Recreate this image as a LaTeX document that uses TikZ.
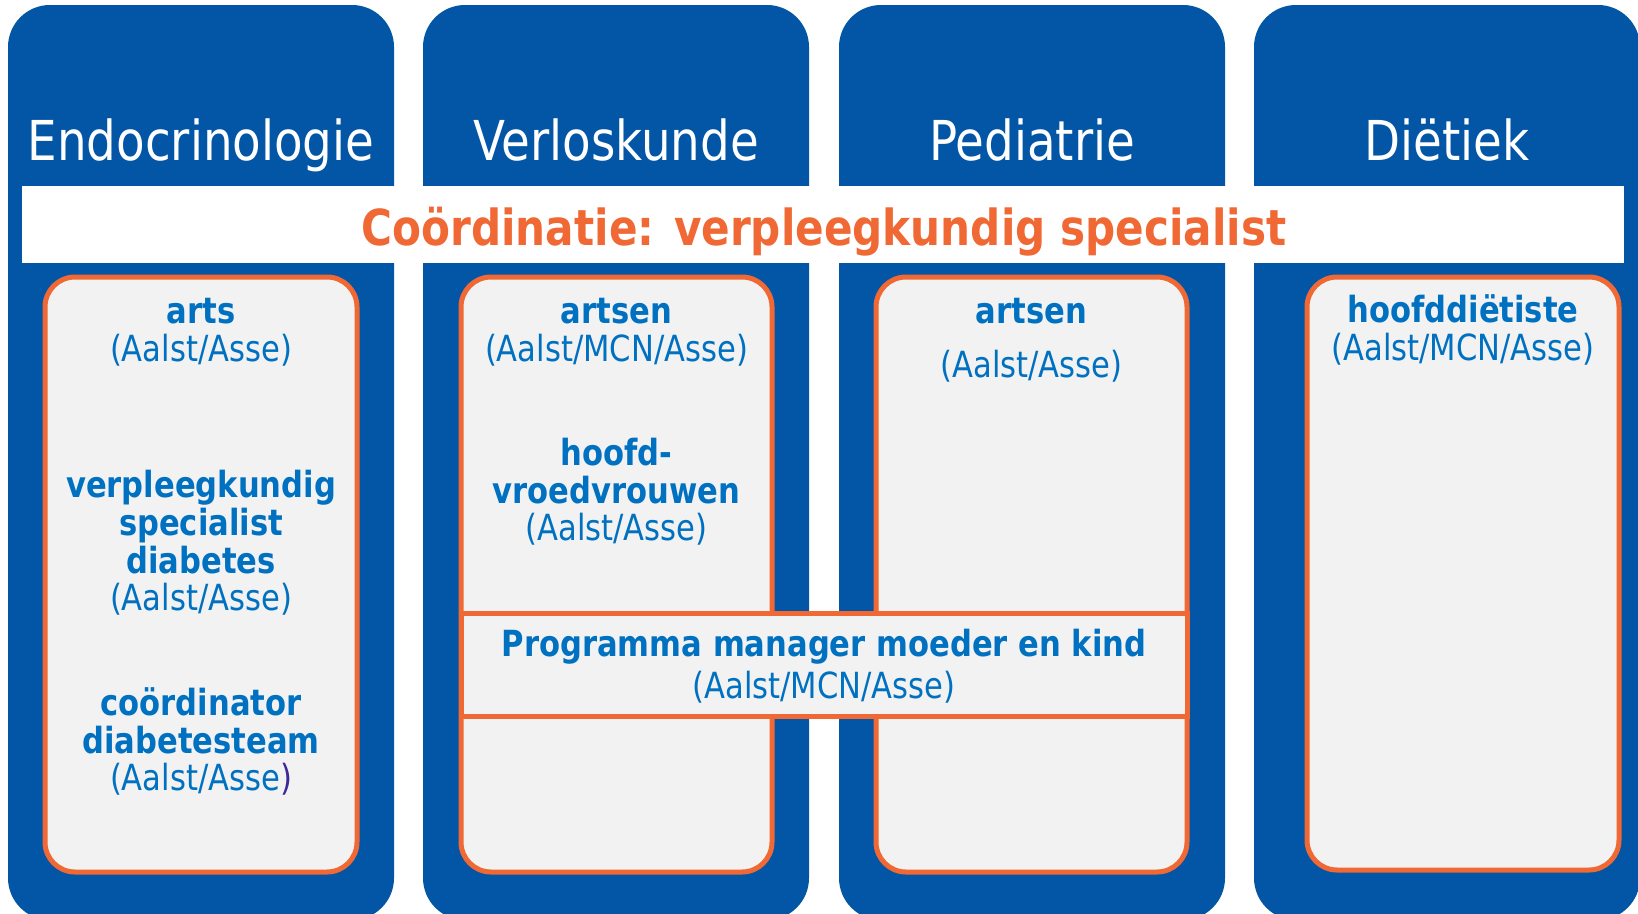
\documentclass[tikz,border=0pt]{standalone}
\usepackage{fontspec}
\setmainfont{DejaVu Sans}[FakeStretch=0.85]
\usepackage{tikz}

\definecolor{deptblue}{RGB}{2,86,165}
\definecolor{staffline}{RGB}{240,104,52}
\definecolor{staffgrey}{RGB}{242,242,242}
\definecolor{whoblue}{RGB}{0,112,192}
\definecolor{parenpurple}{RGB}{60,40,150}

\newcommand\wholine{\rule[-9.6pt]{0pt}{37.6pt}}

\tikzset{
  dept/.style={fill=deptblue,rounded corners=42pt},
  staff/.style={fill=staffgrey,draw=staffline,line width=5pt,rounded corners=30pt},
  head/.style={text=white,anchor=base,inner sep=0pt,font=\fontsize{55}{60}\selectfont},
  who/.style={text=whoblue,align=center,inner sep=0pt,font=\fontsize{36}{37.6}\selectfont},
}

\begin{document}
\begin{tikzpicture}[x=1pt,y=-1pt]
\useasboundingbox (0,0) rectangle (1638,913);
\fill[white] (0,0) rectangle (1638,913);
\foreach \x/\name/\txt in {8/endo/Endocrinologie,423/verlos/Verloskunde,
                           839/pedia/Pediatrie,1254/diet/Diëtiek} {
  \fill[dept] (\x,5) rectangle ++(386,915);
  \node[head] (\name) at (\x+193,160) {\txt};
}
\fill[white] (22,186) rectangle (1624,263);
\node[anchor=base,inner sep=0pt,text=staffline,font=\fontsize{49.6}{55}\selectfont\bfseries]
  (coord) at (824,245) {Coördinatie: verpleegkundig specialist};

\draw[staff] (45,277) rectangle (357,872);
\draw[staff] (461,277) rectangle (772,872);
\draw[staff] (876,277) rectangle (1187,872);
\draw[staff] (1307,277) rectangle (1619,870);
\draw[staff,rounded corners=0pt] (461,613) rectangle (1187,716);

\node[who] (endoarts) at (201,333) {\wholine\textbf{arts}\\\wholine(Aalst/Asse)};
\node[who] (endovs) at (201,545)
  {\wholine\textbf{verpleegkundig}\\\wholine\textbf{specialist}\\\wholine\textbf{diabetes}\\\wholine(Aalst/Asse)};
\node[who] (endocoord) at (201,744)
  {\wholine\textbf{coördinator}\\\wholine\textbf{diabetesteam}\\\wholine(Aalst/Asse\textcolor{parenpurple}{)}};
\node[who] (verlosarts) at (616.5,333) {\wholine\textbf{artsen}\\\wholine(Aalst/MCN/Asse)};
\node[who] (vroed) at (616.5,494)
  {\wholine\textbf{hoofd-}\\\wholine\textbf{vroedvrouwen}\\\wholine(Aalst/Asse)};
\node[who] (pedia arts) at (1031.5,341) {\wholine\textbf{artsen}\\[16pt]\wholine(Aalst/Asse)};
\node[who] (dietist) at (1463,332) {\wholine\textbf{hoofddiëtiste}\\\wholine(Aalst/MCN/Asse)};
\node[who] (progman) at (824,668.5)
  {\wholine\textbf{Programma manager moeder en kind}\\[4.2pt]\wholine(Aalst/MCN/Asse)};
\end{tikzpicture}
\end{document}
